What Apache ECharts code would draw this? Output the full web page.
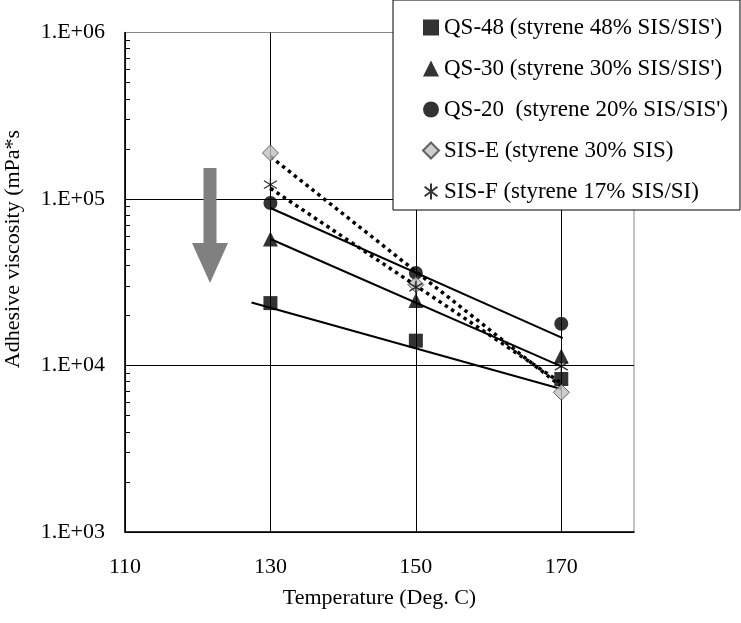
<!DOCTYPE html>
<html>
<head>
<meta charset="utf-8">
<script src="https://cdn.jsdelivr.net/npm/echarts@6/dist/echarts.min.js"></script>
<style>
  html, body { margin: 0; padding: 0; background: #fff; }
  #main { width: 741px; height: 623px; }
</style>
</head>
<body>
<div id="main"></div>
<script>
// 测定温度
var temps = [130, 150, 170];
// 各样品粘度 (mPa*s)
var qs48 = [23700, 14100, 8300];
var qs30 = [57500, 24600, 11400];
var qs20 = [94600, 36000, 17800];
var sisE = [189000, 30600, 6900];
var sisF = [122000, 29500, 9900];
// 趋势线两端 [x, y]
var qs48Trend = [[127.4, 23900], [170, 7230]];
var qs30Trend = [[130, 57500], [170, 9880]];
var qs20Trend = [[130, 88300], [170.2, 14600]];
var sisETrend = [[130, 180000], [170, 7480]];
var sisFTrend = [[130, 116000], [170, 7850]];
var names = [
  "QS-48 (styrene 48% SIS/SIS')",
  "QS-30 (styrene 30% SIS/SIS')",
  "QS-20  (styrene 20% SIS/SIS')",
  'SIS-E (styrene 30% SIS)',
  'SIS-F (styrene 17% SIS/SI)'
];
// y轴刻度 (10的幂) 和小刻度倍数
var decades = [3, 4, 5, 6];
var minorSteps = [2, 3, 4, 5, 6, 7, 8, 9];

var FONT = 'Liberation Serif';
var chart = echarts.init(document.getElementById('main'));

// 对数小刻度位置 (用于辅助数值轴, 单位是 log10)
var minorTickPos = [];
decades.slice(0, -1).forEach(function (d) {
  minorSteps.forEach(function (k) { minorTickPos.push(d + Math.log10(k)); });
});

function pts(ys) {
  return temps.map(function (t, i) { return [t, ys[i]]; });
}
function scatter(name, data, symbol, size, style) {
  return {
    name: name, type: 'scatter', data: pts(data), symbol: symbol,
    symbolSize: size, z: 5, itemStyle: style
  };
}
function trend(data, dotted) {
  return {
    type: 'line', data: data, symbol: 'none', z: 3, silent: true,
    lineStyle: dotted ? {color: '#000', width: 3.5, type: [3.5, 4]} : {color: '#000', width: 2}
  };
}

var star = 'path://M1,2L9,8M9,2L1,8M5,0L5,10';

var option = {
  animation: false,
  grid: {left: 125, right: 107, top: 32.5, bottom: 91, show: true, borderColor: '#888', borderWidth: 1},
  legend: {
    data: names,
    orient: 'vertical',
    left: 393, top: 0,
    padding: [16, 12, 7, 29],
    itemGap: 18,
    itemWidth: 16, itemHeight: 16,
    backgroundColor: '#fff',
    borderColor: '#000', borderWidth: 1,
    textStyle: {fontFamily: FONT, fontSize: 23, color: '#000'},
    z: 10
  },
  xAxis: {
    type: 'value', min: 110, max: 180, interval: 20,
    name: 'Temperature (Deg. C)', nameLocation: 'middle', nameGap: 55,
    nameTextStyle: {fontFamily: FONT, fontSize: 22, color: '#000'},
    axisLine: {lineStyle: {color: '#000', width: 1.5}},
    axisTick: {show: false},
    axisLabel: {
      fontFamily: FONT, fontSize: 22, color: '#000', margin: 24,
      formatter: function (v) { return v === 180 ? '' : String(v); }
    },
    splitLine: {show: true, showMaxLine: false, lineStyle: {color: '#000', width: 1}}
  },
  yAxis: [
    {
      type: 'log', logBase: 10, min: 1000, max: 1000000,
      axisLine: {show: true, lineStyle: {color: '#000', width: 1.5}},
      axisTick: {show: false},
      axisLabel: {
        fontFamily: FONT, fontSize: 22, color: '#000', margin: 20,
        formatter: function (v) { return '1.E+0' + Math.round(Math.log10(v)); }
      },
      splitLine: {show: true, showMaxLine: false, lineStyle: {color: '#000', width: 1}}
    },
    {
      // 只画小刻度
      type: 'value', min: decades[0], max: decades[decades.length - 1], position: 'left',
      axisLine: {show: false},
      axisLabel: {show: false},
      splitLine: {show: false},
      axisTick: {show: true, inside: true, length: 5, customValues: minorTickPos, lineStyle: {color: '#000', width: 1}}
    }
  ],
  graphic: [
    {
      type: 'polygon', z: 1,
      shape: {points: [[203.5, 168], [216.5, 168], [216.5, 243], [228, 243], [210, 283], [192, 243], [203.5, 243]]},
      style: {fill: '#808080'}
    },
    {
      type: 'text', x: 13, y: 249, rotation: Math.PI / 2,
      style: {
        text: 'Adhesive viscosity (mPa*s', fill: '#000',
        font: '22px "' + FONT + '"', align: 'center', verticalAlign: 'middle'
      }
    }
  ],
  series: [
    trend(qs48Trend, false),
    trend(qs30Trend, false),
    trend(qs20Trend, false),
    trend(sisETrend, true),
    trend(sisFTrend, true),
    scatter(names[0], qs48, 'rect', 14, {color: '#000'}),
    scatter(names[1], qs30, 'triangle', 15, {color: '#000'}),
    scatter(names[2], qs20, 'circle', 14, {color: '#000'}),
    scatter(names[3], sisE, 'diamond', 16, {color: '#c0c0c0', borderColor: '#404040', borderWidth: 1}),
    scatter(names[4], sisF, star, 13, {color: 'transparent', borderColor: '#000', borderWidth: 1.3})
  ]
};
chart.setOption(option);

window.onresize = function () {
  chart.resize();
};
</script>
</body>
</html>
